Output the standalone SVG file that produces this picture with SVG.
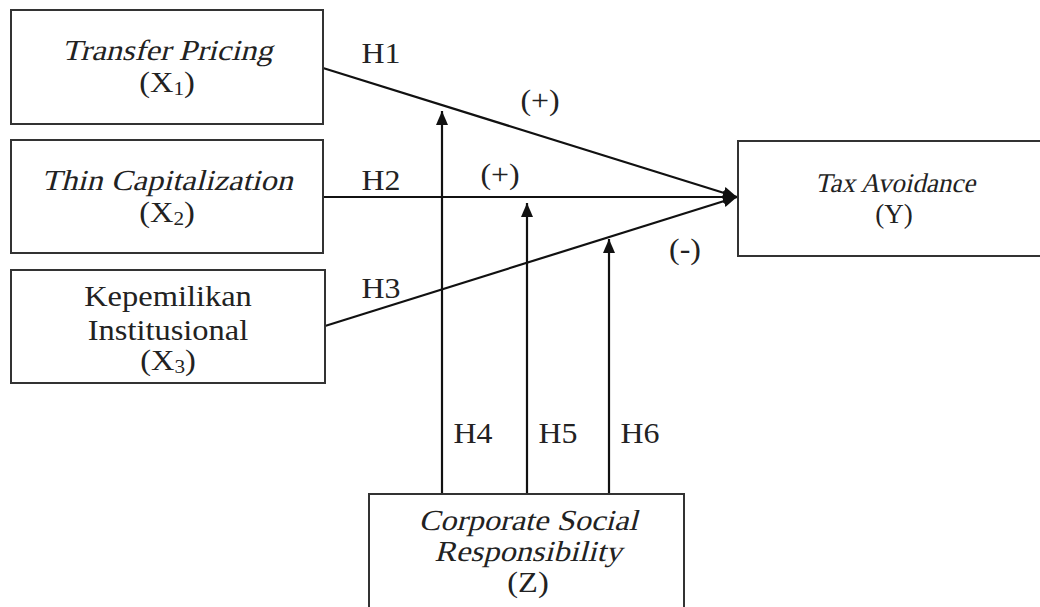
<svg xmlns="http://www.w3.org/2000/svg" width="1040" height="607" viewBox="0 0 1040 607">
<style>
.box{fill:#fff;stroke:#333;stroke-width:2}
.t{font-family:"Liberation Serif","Times New Roman",serif;font-size:29px;fill:#222;text-anchor:middle}
.s{font-size:27px}
.ln{stroke:#111;stroke-width:2.2;fill:none}
.sub{font-size:19px}
</style>
<defs>
<marker id="ah" viewBox="0 0 14 12" refX="14" refY="6" markerWidth="14" markerHeight="12" markerUnits="userSpaceOnUse" orient="auto">
<path d="M0,0 L14,6 L0,12 Z" fill="#111"/>
</marker>
</defs>
<g id="connectors">
<line class="ln" x1="323" y1="68" x2="737" y2="197" marker-end="url(#ah)"/>
<line class="ln" x1="323" y1="197" x2="737" y2="197" marker-end="url(#ah)"/>
<line class="ln" x1="325" y1="326" x2="737" y2="197" marker-end="url(#ah)"/>
<line class="ln" x1="442" y1="494" x2="442" y2="111" marker-end="url(#ah)"/>
<line class="ln" x1="527" y1="494" x2="527" y2="203" marker-end="url(#ah)"/>
<line class="ln" x1="609" y1="494" x2="609" y2="239" marker-end="url(#ah)"/>
<text class="t" transform="translate(381,63) scale(1.1,1)">H1</text>
<text class="t" transform="translate(540,110) scale(1.1,1)">(+)</text>
<text class="t" transform="translate(381,190) scale(1.1,1)">H2</text>
<text class="t" transform="translate(500,184) scale(1.1,1)">(+)</text>
<text class="t" transform="translate(381,298) scale(1.1,1)">H3</text>
<text class="t" transform="translate(685,259) scale(1.1,1)">(-)</text>
<text class="t" transform="translate(473,443) scale(1.1,1)">H4</text>
<text class="t" transform="translate(558,443) scale(1.1,1)">H5</text>
<text class="t" transform="translate(640,443) scale(1.1,1)">H6</text>
</g>
<g id="x1">
<rect class="box" x="11" y="10" width="312" height="114"/>
<text class="t" transform="translate(167,60) scale(1.12,1) skewX(-13)">Transfer Pricing</text>
<text class="t" transform="translate(167,92) scale(1.12,1)">(X<tspan class="sub" dy="3">1</tspan><tspan dy="-3">)</tspan></text>
</g>
<g id="x2">
<rect class="box" x="11" y="140" width="312" height="113"/>
<text class="t" transform="translate(167,190) scale(1.12,1) skewX(-13)">Thin Capitalization</text>
<text class="t" transform="translate(167,222) scale(1.12,1)">(X<tspan class="sub" dy="3">2</tspan><tspan dy="-3">)</tspan></text>
</g>
<g id="x3">
<rect class="box" x="11" y="270" width="314" height="113"/>
<text class="t" transform="translate(168,306) scale(1.12,1)">Kepemilikan</text>
<text class="t" transform="translate(168,340) scale(1.12,1)">Institusional</text>
<text class="t" transform="translate(168,370) scale(1.12,1)">(X<tspan class="sub" dy="3">3</tspan><tspan dy="-3">)</tspan></text>
</g>
<g id="y">
<rect class="box" x="738" y="141" width="310" height="115"/>
<text class="t s" transform="translate(895,192) skewX(-13)">Tax Avoidance</text>
<text class="t s" transform="translate(894,223)">(Y)</text>
</g>
<g id="z">
<rect class="box" x="369" y="494" width="315" height="125"/>
<text class="t" transform="translate(528,530) scale(1.12,1) skewX(-13)">Corporate Social</text>
<text class="t" transform="translate(528,561) scale(1.12,1) skewX(-13)">Responsibility</text>
<text class="t" transform="translate(528,592) scale(1.12,1)">(Z)</text>
</g>
</svg>
